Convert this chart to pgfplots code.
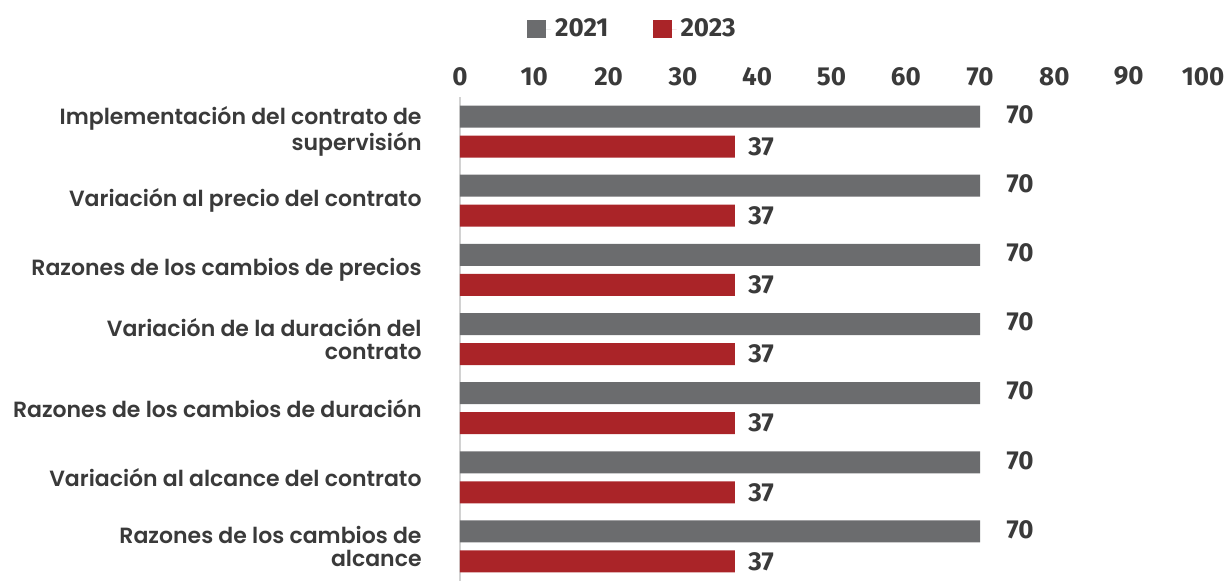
\documentclass[border=0pt]{standalone}
\usepackage{pgfplots}
\pgfplotsset{compat=1.18}
\usepackage{fontspec}
\setmainfont{Lato}
\newfontfamily\lab{Poppins SemiBold}
\newfontfamily\numf{Fira Sans}
\newcommand\num{\numf\bfseries}
\definecolor{g21}{HTML}{6B6C6E}
\definecolor{r23}{HTML}{AA2428}
\definecolor{txt}{HTML}{3A3A3A}
\begin{document}
\begin{tikzpicture}
\begin{axis}[
  at={(0,0)}, anchor=south west,
  scale only axis, width=371.5pt, height=242pt,
  xbar, bar width=11pt,
  xmin=0, xmax=100, ymin=-0.5, ymax=6.5,
  xtick={0,10,...,100},
  axis x line*=top, x axis line style={draw=none},
  axis y line*=left, y axis line style={draw=gray!35, line width=0.7pt},
  xticklabel pos=top,
  major tick length=0pt,
  /pgf/number format/assume math mode=true,
  xticklabel style={font=\num\fontsize{13}{13}\selectfont, text=txt, inner sep=0pt, yshift=5.5pt},
  ytick={0,...,6},
  yticklabels={{Razones de los cambios de\\alcance},
               {Variación al alcance del contrato},
               {Razones de los cambios de duración},
               {Variación de la duración del\\contrato},
               {Razones de los cambios de precios},
               {Variación al precio del contrato},
               {Implementación del contrato de\\supervisión}},
  yticklabel style={align=right, anchor=east, inner sep=0pt, xshift=-19pt,
                    font=\lab\fontsize{11}{11.8}\selectfont, text=txt},
  legend columns=2,
  legend style={draw=none, fill=none, at={(axis description cs:0.2335,1)}, anchor=center, yshift=34pt,
                font=\num\fontsize{13}{13}\selectfont, text=txt,
                /tikz/every even column/.append style={column sep=20pt}},
  legend image code/.code={\fill[#1] (0pt,-4.5pt) rectangle (9.5pt,4.5pt); \path (0pt,0pt) -- (12pt,0pt);},
  nodes near coords,
  nodes near coords style={font=\num\fontsize{13}{13}\selectfont, text=txt, anchor=west, inner sep=0pt},
]
\addplot[fill=g21, draw=none, bar shift=7.5pt,
  nodes near coords style={xshift=13pt, yshift=1pt}]
  coordinates {(70,0) (70,1) (70,2) (70,3) (70,4) (70,5) (70,6)};
\addlegendentry{2021}
\addplot[fill=r23, draw=none, bar shift=-7.5pt,
  nodes near coords style={xshift=6.5pt}]
  coordinates {(37,0) (37,1) (37,2) (37,3) (37,4) (37,5) (37,6)};
\addlegendentry{2023}
\end{axis}
\useasboundingbox (-230pt,0pt) rectangle (385pt,290.5pt);
\end{tikzpicture}
\end{document}
